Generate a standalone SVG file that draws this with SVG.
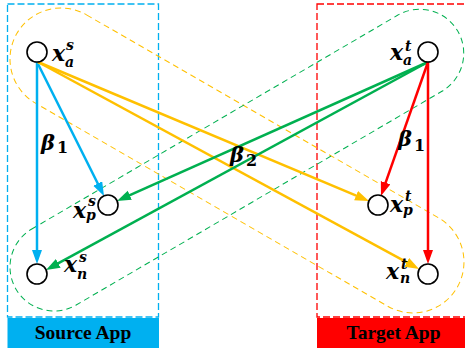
<svg xmlns="http://www.w3.org/2000/svg" width="465" height="354" viewBox="0 0 465 354">
<style>
.node{fill:#fff;stroke:#000;stroke-width:1.6}
.lbl{font-family:"DejaVu Serif","Liberation Serif",serif;font-weight:bold;font-style:italic;fill:#000}
.x{font-size:22px}
.s{font-size:14px}
.beta{font-size:21px}
.num{font-size:16px;font-style:normal}
.cap{fill:none;stroke-width:1;stroke-dasharray:6 4}
.box{fill:none;stroke-width:1.3;stroke-dasharray:7 3}
.bar{font-family:"Liberation Serif","Times New Roman",serif;font-weight:bold;font-size:19.5px;fill:#000;text-anchor:middle}
.a{fill:none;stroke-width:2.5}
</style>
<defs>
<marker id="mc" markerUnits="userSpaceOnUse" markerWidth="15" markerHeight="11" refX="6" refY="5" orient="auto"><path d="M0,0 L14,5 L0,10 z" fill="#00B0F0"/></marker>
<marker id="mo" markerUnits="userSpaceOnUse" markerWidth="15" markerHeight="11" refX="6" refY="5" orient="auto"><path d="M0,0 L14,5 L0,10 z" fill="#FFC000"/></marker>
<marker id="mg" markerUnits="userSpaceOnUse" markerWidth="15" markerHeight="11" refX="6" refY="5" orient="auto"><path d="M0,0 L14,5 L0,10 z" fill="#00B050"/></marker>
<marker id="mr" markerUnits="userSpaceOnUse" markerWidth="15" markerHeight="11" refX="6" refY="5" orient="auto"><path d="M0,0 L14,5 L0,10 z" fill="#FF0000"/></marker>
</defs>
<g id="source-app">
<rect x="7.5" y="318" width="151.5" height="30" fill="#00B0F0"/>
<rect class="box" x="7.5" y="4" width="151" height="313" stroke="#00B0F0"/>
<text class="bar" x="83" y="339">Source App</text>
</g>
<g id="target-app">
<rect x="317" y="318" width="150" height="30" fill="#FF0000"/>
<rect class="box" x="317" y="4" width="150" height="313" stroke="#FF0000"/>
<text class="bar" x="393.5" y="339">Target App</text>
</g>
<g id="groups">
<rect class="cap" stroke="#FFC000" transform="translate(61,59) rotate(29.97)" x="-51" y="-51" width="508.3" height="102" rx="51"/>
<rect class="cap" stroke="#00B050" transform="translate(54,267) rotate(-30.3)" x="-44" y="-44" width="511.6" height="88" rx="44"/>
</g>
<g id="connectors">
<line class="a" stroke="#00B0F0" x1="37" y1="62" x2="37" y2="256" marker-end="url(#mc)"/>
<line class="a" stroke="#00B0F0" x1="37" y1="62" x2="100.4" y2="188.8" marker-end="url(#mc)"/>
<line class="a" stroke="#FFC000" x1="38" y1="62" x2="361.6" y2="197.9" marker-end="url(#mo)"/>
<line class="a" stroke="#FFC000" x1="38" y1="62" x2="412" y2="265.2" marker-end="url(#mo)"/>
<line class="a" stroke="#00B050" x1="428" y1="62" x2="124.3" y2="197.7" marker-end="url(#mg)"/>
<line class="a" stroke="#00B050" x1="428" y1="62" x2="53" y2="266.2" marker-end="url(#mg)"/>
<line class="a" stroke="#FF0000" x1="428" y1="62" x2="428" y2="256" marker-end="url(#mr)"/>
<line class="a" stroke="#FF0000" x1="428" y1="62" x2="383.6" y2="188.4" marker-end="url(#mr)"/>
<text class="lbl beta" x="41" y="150">β<tspan class="num" x="57" y="153">1</tspan></text>
<text class="lbl beta" x="398" y="146">β<tspan class="num" x="414" y="151">1</tspan></text>
<text class="lbl beta" x="230" y="162">β<tspan class="num" x="246" y="166">2</tspan></text>
</g>
<g id="xa-s">
<circle class="node" cx="37" cy="52" r="10"/>
<text class="lbl"><tspan class="x" x="52" y="61">x</tspan><tspan class="s" x="66" y="50">s</tspan><tspan class="s" x="65" y="67">a</tspan></text>
</g>
<g id="xa-t">
<circle class="node" cx="428" cy="52" r="10"/>
<text class="lbl"><tspan class="x" x="390" y="60">x</tspan><tspan class="s" x="405" y="51">t</tspan><tspan class="s" x="403" y="65">a</tspan></text>
</g>
<g id="xp-s">
<circle class="node" cx="108" cy="205" r="10"/>
<text class="lbl"><tspan class="x" x="73" y="218">x</tspan><tspan class="s" x="88" y="206">s</tspan><tspan class="s" x="86" y="220">p</tspan></text>
</g>
<g id="xn-s">
<circle class="node" cx="37" cy="274" r="10"/>
<text class="lbl"><tspan class="x" x="64" y="272">x</tspan><tspan class="s" x="79" y="262">s</tspan><tspan class="s" x="77" y="279">n</tspan></text>
</g>
<g id="xp-t">
<circle class="node" cx="378" cy="205" r="10"/>
<text class="lbl"><tspan class="x" x="390" y="212">x</tspan><tspan class="s" x="405" y="201">t</tspan><tspan class="s" x="403" y="215">p</tspan></text>
</g>
<g id="xn-t">
<circle class="node" cx="428" cy="274" r="10"/>
<text class="lbl"><tspan class="x" x="386" y="279">x</tspan><tspan class="s" x="401" y="269">t</tspan><tspan class="s" x="400" y="283">n</tspan></text>
</g>
</svg>
